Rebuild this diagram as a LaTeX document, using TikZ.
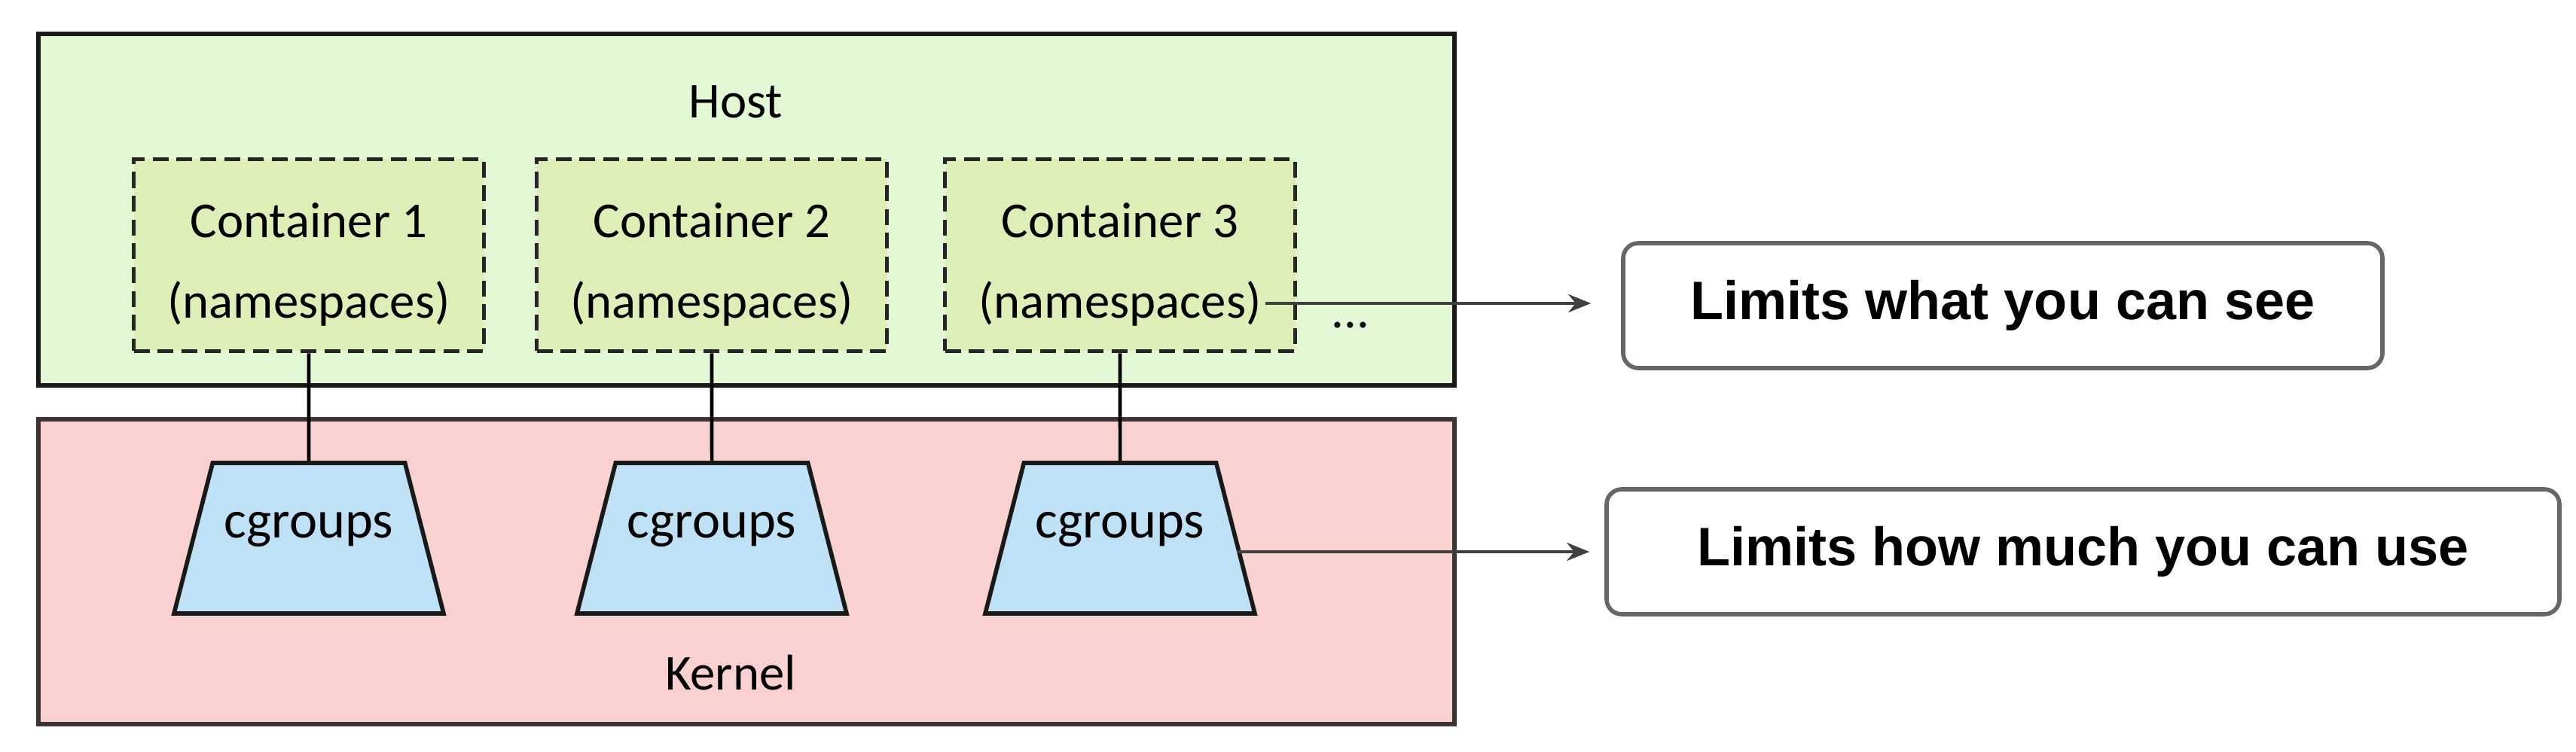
\documentclass[tikz,border=0pt]{standalone}
\usepackage{fontspec}
\setmainfont{Carlito}
\newfontfamily\limitfont{Liberation Sans}
\usetikzlibrary{shapes.geometric,arrows.meta,positioning,calc}
\definecolor{hostgreen}{HTML}{E3F9D6}
\definecolor{contgreen}{HTML}{DDEFB6}
\definecolor{kernelpink}{HTML}{F9D1D0}
\definecolor{kernelline}{HTML}{3D3434}
\definecolor{cgblue}{HTML}{BEE1F5}

\begin{document}
\begin{tikzpicture}
 % styles for this picture only
\tikzset{layer/.style={draw=black!90, line width=1.6pt, anchor=south west, minimum width=18.8cm}}
\tikzset{txt/.style={inner sep=0.5mm, font=\fontsize{19}{23}\selectfont}}
\tikzset{container/.style={draw=black!85, fill=contgreen, dash pattern=on 6pt off 3pt, line width=1.6pt, minimum width=4.65cm, minimum height=2.55cm}}
\tikzset{cgbox/.style={trapezium, trapezium left angle=75.6, trapezium right angle=75.6, trapezium stretches body, draw=black!90, fill=cgblue, line width=1.6pt, inner ysep=0pt, text height=1cm, text depth=1cm, minimum width=3.58cm, font=\fontsize{20}{24}\selectfont}}
\tikzset{limitbox/.style={draw=black!60, rounded corners=2mm, line width=1.6pt, minimum height=1.66cm, font=\limitfont\bfseries\fontsize{20.5}{24}\selectfont}}
\tikzset{link/.style={draw=black, line width=1.3pt}}
\tikzset{pointer/.style={draw=black!75, line width=1.3pt, -{Stealth[length=3mm, width=2.4mm]}}}
\useasboundingbox (0,0) rectangle (34.2,9.99);

% host and kernel layers
\node[layer, fill=hostgreen, minimum height=4.67cm] (host) at (0.48,4.84) {};
\node[txt] (hostlbl) at (9.77,8.64) {Host};
\node[layer, fill=kernelpink, draw=kernelline, minimum height=4.05cm] (kernel) at (0.48,0.34) {};
\node[txt] (kernellbl) at (9.7,1.05) {Kernel};

% containers with their cgroups
\foreach \i/\x in {1/4.10, 2/9.45, 3/14.87}{
  \node[container] (c\i) at (\x,6.6) {};
  \node[txt] (ct\i) at (\x,7.06) {Container \i};
  \node[txt] (ns\i) at (\x,5.96) {(namespaces)};
  \node[cgbox] (cg\i) at (\x,2.84) {cgroups};
  \draw[link] (c\i.south) -- (cg\i.north);
}
\node[txt] (dots) at (17.93,5.67) {...};

% what the two mechanisms do
\node[limitbox, minimum width=10.08cm] (see) at (26.59,5.93) {Limits what you can see};
\node[limitbox, minimum width=12.65cm] (use) at (27.655,2.66) {Limits how much you can use};
\draw[pointer, shorten >=4mm] (ns3.east) -- (ns3.east -| see.west);
\draw[pointer, shorten >=2mm] (cg3.east |- use.west) -- (use.west);
\end{tikzpicture}
\end{document}
